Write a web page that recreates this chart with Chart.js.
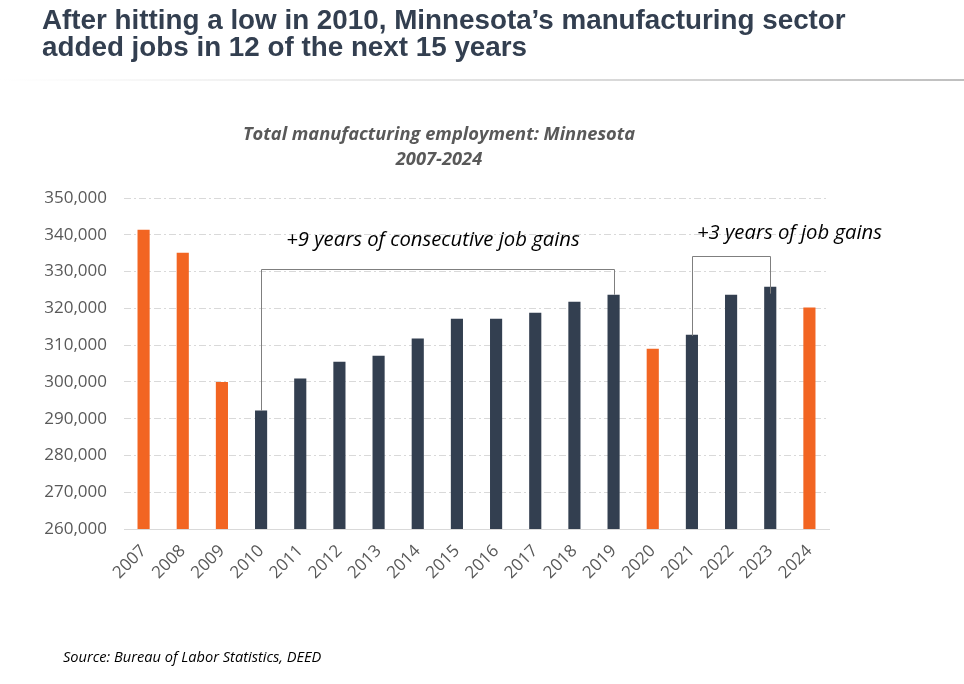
<!DOCTYPE html>
<html>
<head>
<meta charset="utf-8">
<script src="https://cdn.jsdelivr.net/npm/chart.js@4"></script>
<style>
  body { margin: 0; background: #fff; }
  #wrap { position: relative; width: 964px; height: 684px; overflow: hidden; }
  #myChart { position: absolute; left: 0; top: 0; }
  .head {
    position: absolute; left: 42px; top: 6px; margin: 0;
    font-family: "Liberation Sans", Arial, sans-serif;
    font-weight: bold; font-size: 27.8px; line-height: 27px; color: #333f50;
  }
  .rule {
    position: absolute; left: 0; top: 79px; width: 964px; height: 2px;
    background: linear-gradient(to right, #ffffff 0%, #e6e6e6 45%, #bfbfbf 100%);
  }
  .sub {
    position: absolute; left: 189px; width: 500px; top: 120px; text-align: center;
    font-family: "Open Sans", sans-serif; font-style: italic; font-weight: bold;
    font-size: 18.3px; line-height: 25px; color: #595959;
  }
  .source {
    position: absolute; left: 63px; top: 646px;
    font-family: "Open Sans", sans-serif; font-style: italic; font-size: 14.6px; color: #000;
  }
</style>
</head>
<body>
<div id="wrap">
  <canvas id="myChart" width="964" height="684"></canvas>
  <h1 class="head">After hitting a low in 2010, Minnesota’s manufacturing sector<br>added jobs in 12 of the next 15 years</h1>
  <div class="rule"></div>
  <div class="sub">Total manufacturing employment: Minnesota<br>2007-2024</div>
  <div class="source">Source: Bureau of Labor Statistics, DEED</div>
</div>
<script>
const years = ["2007", "2008", "2009", "2010", "2011", "2012", "2013", "2014", "2015",
  "2016", "2017", "2018", "2019", "2020", "2021", "2022", "2023", "2024"];
const jobs = [341400, 335100, 300000, 292200, 300900, 305500, 307100, 311800, 317200,
  317200, 318800, 321800, 323700, 309000, 312800, 323700, 325900, 320200];
// years drawn in orange (declines)
const lossYears = ["2007", "2008", "2009", "2020", "2024"];
const yTicks = [260000, 270000, 280000, 290000, 300000, 310000, 320000, 330000, 340000, 350000];

const brackets = [
  { from: "2010", to: "2019", fromEnd: 292200, toEnd: 323700, top: 330800,
    label: "+9 years of consecutive job gains", labelY: 338600, shift: -5 },
  { from: "2021", to: "2023", fromEnd: 312500, toEnd: 324000, top: 334100,
    label: "+3 years of job gains", labelY: 340500, shift: 58 },
];

const ORANGE = "#f26522";
const NAVY = "#333f50";

const bracketPlugin = {
  id: "brackets",
  afterDatasetsDraw(chart) {
    const { ctx, scales } = chart;
    const x = scales.x, y = scales.y;
    ctx.save();
    brackets.forEach((b) => {
      const x1 = Math.round(x.getPixelForValue(years.indexOf(b.from))) + 0.5;
      const x2 = Math.round(x.getPixelForValue(years.indexOf(b.to))) + 0.5;
      const yt = Math.round(y.getPixelForValue(b.top)) + 0.5;
      ctx.strokeStyle = "#7f7f7f";
      ctx.lineWidth = 1;
      ctx.beginPath();
      ctx.moveTo(x1, y.getPixelForValue(b.fromEnd));
      ctx.lineTo(x1, yt);
      ctx.lineTo(x2, yt);
      ctx.lineTo(x2, y.getPixelForValue(b.toEnd));
      ctx.stroke();
      ctx.fillStyle = "#000";
      ctx.font = "italic 20.3px 'Open Sans', sans-serif";
      ctx.textAlign = "center";
      ctx.textBaseline = "middle";
      ctx.fillText(b.label, (x1 + x2) / 2 + b.shift, y.getPixelForValue(b.labelY));
    });
    ctx.restore();
  },
};

const ctx = document.getElementById("myChart");
const graph = new Chart(ctx, {
  type: "bar",
  data: {
    labels: years,
    datasets: [
      {
        label: "Total manufacturing employment",
        data: jobs,
        backgroundColor: years.map((yr) => (lossYears.includes(yr) ? ORANGE : NAVY)),
        barPercentage: 0.62,
        categoryPercentage: 0.5,
      },
    ],
  },
  options: {
    responsive: false,
    animation: false,
    layout: { padding: { top: 198, right: 135, left: 0, bottom: 0 } },
    scales: {
      x: {
        afterFit: (scale) => { scale.height = 155; },
        ticks: {
          font: { size: 17, family: "'Open Sans', sans-serif" },
          color: "#595959",
          maxRotation: 45,
          minRotation: 45,
          padding: 4,
          autoSkip: false,
        },
        grid: { display: false },
        border: { color: "#d9d9d9", width: 1 },
      },
      y: {
        min: 260000,
        max: 350000,
        afterFit: (scale) => { scale.width = 124; },
        afterBuildTicks: (scale) => { scale.ticks = yTicks.map((v) => ({ value: v })); },
        ticks: {
          callback: (value) => value.toLocaleString("en-US"),
          font: { size: 17, family: "'Open Sans', sans-serif" },
          color: "#595959",
          padding: 17,
        },
        grid: { color: "#d9d9d9", drawTicks: false },
        border: { display: false, dash: [7, 3, 2, 3] },
      },
    },
    plugins: {
      legend: { display: false },
      tooltip: { enabled: false },
    },
  },
  plugins: [bracketPlugin],
});
</script>
</body>
</html>
